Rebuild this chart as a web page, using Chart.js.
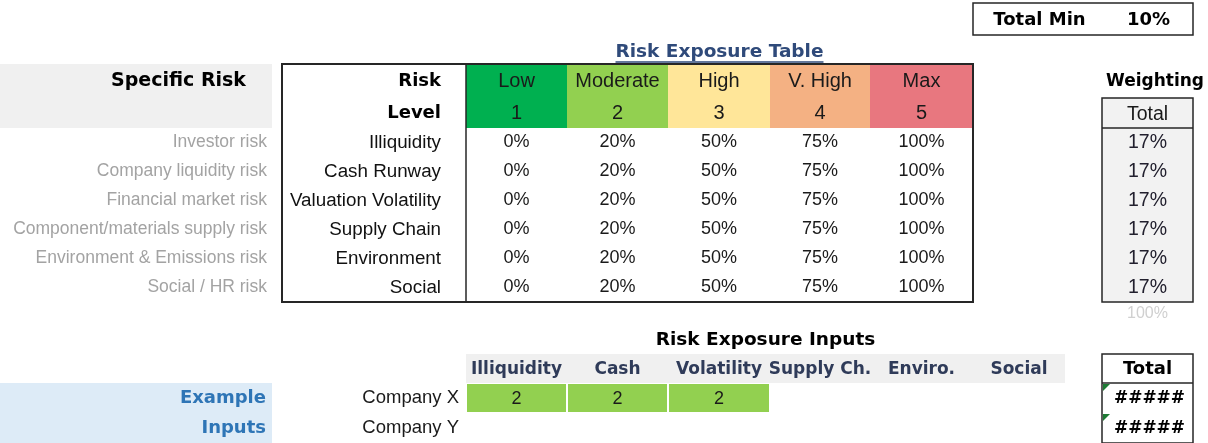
<!DOCTYPE html>
<html>
<head>
<meta charset="utf-8">
<script src="https://cdn.jsdelivr.net/npm/chart.js@4/dist/chart.umd.min.js"></script>
<style>
html, body { margin: 0; padding: 0; background: #fff; }
#wrap { width: 1208px; height: 443px; }
</style>
</head>
<body>
<div id="wrap"><canvas id="sheet"></canvas></div>
<script>
// dados da planilha
const riskLevels = ['Low', 'Moderate', 'High', 'V. High', 'Max'];
const levelNumbers = [1, 2, 3, 4, 5];
const specificRisks = ['Investor risk', 'Company liquidity risk', 'Financial market risk',
  'Component/materials supply risk', 'Environment & Emissions risk', 'Social / HR risk'];
const riskNames = ['Illiquidity', 'Cash Runway', 'Valuation Volatility', 'Supply Chain', 'Environment', 'Social'];
const exposureTable = [
  [0, 20, 50, 75, 100],
  [0, 20, 50, 75, 100],
  [0, 20, 50, 75, 100],
  [0, 20, 50, 75, 100],
  [0, 20, 50, 75, 100],
  [0, 20, 50, 75, 100]
];
const weights = [17, 17, 17, 17, 17, 17];
const weightSum = 100;
const totalMin = 10;
const inputHeaders = ['Illiquidity', 'Cash', 'Volatility', 'Supply Ch.', 'Enviro.', 'Social'];
const companies = ['Company X', 'Company Y'];
const companyInputs = [
  [2, 2, 2, null, null, null],
  [null, null, null, null, null, null]
];
const companyTotals = ['#####', '#####'];

// layout da grade (larguras das colunas / alturas das linhas, em px)
const colEdges = [0, 272, 282, 466, 567, 668, 770, 870, 973, 1065, 1102, 1193, 1208];
const rowEdges = [0, 3, 35, 64, 96, 128, 157, 186, 215, 244, 273, 302, 325, 354, 383, 413, 443];
const levelColors = ['#00B050', '#92D050', '#FFE699', '#F4B183', '#E8777F'];
const inputColor = '#92D050';

const BOLD = 'bold {s}px "DejaVu Sans"';
const REG = '{s}px "Liberation Sans"';
const f = (tpl, s) => tpl.replace('{s}', s);

function cell(chart, c0, r0, c1 = c0, r1 = r0) {
  const x = chart.scales.x, y = chart.scales.y;
  const left = x.getPixelForValue(colEdges[c0]);
  const right = x.getPixelForValue(colEdges[c1 + 1]);
  const top = y.getPixelForValue(rowEdges[r0]);
  const bottom = y.getPixelForValue(rowEdges[r1 + 1]);
  return { left, right, top, bottom, w: right - left, h: bottom - top, cx: (left + right) / 2, cy: (top + bottom) / 2 };
}

function text(ctx, s, x, y, font, color, align = 'center') {
  ctx.font = font;
  ctx.fillStyle = color;
  ctx.textAlign = align;
  ctx.textBaseline = 'middle';
  ctx.fillText(s, x, y);
}

function fill(ctx, r, color, inset = 0) {
  ctx.fillStyle = color;
  ctx.fillRect(r.left + inset, r.top + inset, r.w - inset * 2, r.h - inset * 2);
}

function box(ctx, r, width, color = '#262626') {
  ctx.strokeStyle = color;
  ctx.lineWidth = width;
  ctx.strokeRect(r.left, r.top, r.w, r.h);
}

function hline(ctx, x0, x1, y, width, color = '#262626') {
  ctx.strokeStyle = color; ctx.lineWidth = width;
  ctx.beginPath(); ctx.moveTo(x0, y); ctx.lineTo(x1, y); ctx.stroke();
}

function vline(ctx, x, y0, y1, width, color = '#262626') {
  ctx.strokeStyle = color; ctx.lineWidth = width;
  ctx.beginPath(); ctx.moveTo(x, y0); ctx.lineTo(x, y1); ctx.stroke();
}

const sheetPlugin = {
  id: 'sheet',
  beforeDatasetsDraw(chart) {
    const ctx = chart.ctx;
    ctx.save();

    // fundos
    fill(ctx, cell(chart, 0, 3, 0, 4), '#F0F0F0');
    fill(ctx, cell(chart, 0, 14, 0, 15), '#DDEBF7');
    riskLevels.forEach((_, i) => fill(ctx, cell(chart, 3 + i, 3, 3 + i, 4), levelColors[i]));
    const wb = cell(chart, 10, 4, 10, 10);
    wb.top += 2; wb.h -= 2;
    fill(ctx, wb, '#F2F2F2');
    fill(ctx, cell(chart, 3, 13, 8, 13), '#F0F0F0');
    companyInputs.forEach((row, r) => row.forEach((v, c) => {
      if (v !== null) fill(ctx, cell(chart, 3 + c, 14 + r), inputColor, 1);
    }));

    // bordas
    box(ctx, cell(chart, 8, 1, 10, 1), 1.5);
    const t = cell(chart, 2, 3, 7, 10);
    box(ctx, t, 2);
    vline(ctx, cell(chart, 3, 3).left, t.top, t.bottom, 1.5);
    box(ctx, wb, 1.5);
    hline(ctx, wb.left, wb.right, cell(chart, 10, 4).bottom, 1.5);
    const tb = cell(chart, 10, 13, 10, 15);
    box(ctx, tb, 1.5);
    hline(ctx, tb.left, tb.right, cell(chart, 10, 13).bottom, 1.5);

    // marcadores verdes
    companyTotals.forEach((_, r) => {
      const c = cell(chart, 10, 14 + r);
      ctx.fillStyle = '#1E7B34';
      ctx.beginPath();
      ctx.moveTo(c.left + 1, c.top + 1);
      ctx.lineTo(c.left + 8, c.top + 1);
      ctx.lineTo(c.left + 1, c.top + 8);
      ctx.closePath();
      ctx.fill();
    });
    ctx.restore();
  },
  afterDraw(chart) {
    const ctx = chart.ctx;
    ctx.save();
    let c;

    // Total Min
    c = cell(chart, 8, 1, 9, 1);
    text(ctx, 'Total Min', c.cx + 2, c.cy + 1, f(BOLD, 18), '#000');
    c = cell(chart, 10, 1);
    text(ctx, totalMin + '%', c.cx + 1, c.cy + 1, f(BOLD, 18), '#000');

    // título
    c = cell(chart, 3, 2, 7, 2);
    text(ctx, 'Risk Exposure Table', c.cx, c.cy + 3, f(BOLD, 18.5), '#2F4A7A');
    const tw = ctx.measureText('Risk Exposure Table').width;
    hline(ctx, c.cx - tw / 2, c.cx + tw / 2, c.cy + 12.5, 1.5, '#2F4A7A');

    // cabeçalho
    c = cell(chart, 0, 3);
    text(ctx, 'Specific Risk', c.right - 26, c.cy + 1, f(BOLD, 19), '#000', 'right');
    c = cell(chart, 2, 3);
    text(ctx, 'Risk', c.right - 25, c.cy + 1, f(BOLD, 18), '#000', 'right');
    c = cell(chart, 2, 4);
    text(ctx, 'Level', c.right - 25, c.cy + 1, f(BOLD, 18), '#000', 'right');
    riskLevels.forEach((lv, i) => {
      c = cell(chart, 3 + i, 3);
      text(ctx, lv, c.cx, c.cy + 1, f(REG, 20), '#1a1a1a');
      c = cell(chart, 3 + i, 4);
      text(ctx, String(levelNumbers[i]), c.cx, c.cy + 1, f(REG, 20), '#1a1a1a');
    });
    c = cell(chart, 10, 3, 11, 3);
    text(ctx, 'Weighting', c.cx, c.cy + 2, f(BOLD, 17), '#000');
    c = cell(chart, 10, 4);
    text(ctx, 'Total', c.cx, c.cy + 3, f(REG, 19.5), '#1a1a1a');

    // linhas de risco
    specificRisks.forEach((s, r) => {
      c = cell(chart, 0, 5 + r);
      text(ctx, s, c.right - 5, c.cy, f(REG, 17.5), '#A3A3A3', 'right');
      c = cell(chart, 2, 5 + r);
      text(ctx, riskNames[r], c.right - 25, c.cy, f(REG, 18.8), '#111', 'right');
      c = cell(chart, 10, 5 + r);
      text(ctx, weights[r] + '%', c.cx, c.cy, f(REG, 19.5), '#22202e');
    });

    // percentuais (pontos do dataset)
    const meta = chart.getDatasetMeta(0);
    meta.data.forEach((pt, i) => {
      const raw = chart.data.datasets[0].data[i];
      text(ctx, raw.v + '%', pt.x, pt.y, f(REG, 18), '#1a1a1a');
    });

    c = cell(chart, 10, 11);
    text(ctx, weightSum + '%', c.cx, c.cy, f(REG, 16), '#D0D0D0');

    // entradas
    c = cell(chart, 3, 12, 8, 12);
    text(ctx, 'Risk Exposure Inputs', c.cx, c.cy + 1, f(BOLD, 18.5), '#000');
    inputHeaders.forEach((h, i) => {
      c = cell(chart, 3 + i, 13);
      text(ctx, h, c.cx, c.cy + 1, f(BOLD, 17), '#2F3B59');
    });
    c = cell(chart, 10, 13);
    text(ctx, 'Total', c.cx, c.cy + 1, f(BOLD, 18), '#000');
    ['Example', 'Inputs'].forEach((s, r) => {
      c = cell(chart, 0, 14 + r);
      text(ctx, s, c.right - 6, c.cy, f(BOLD, 18), '#2E75B6', 'right');
    });
    companies.forEach((s, r) => {
      c = cell(chart, 2, 14 + r);
      text(ctx, s, c.right - 7, c.cy, f(REG, 18.5), '#1a1a1a', 'right');
      companyInputs[r].forEach((v, i) => {
        if (v === null) return;
        c = cell(chart, 3 + i, 14 + r);
        text(ctx, String(v), c.cx, c.cy + 1, f(REG, 18), '#1a1a1a');
      });
      c = cell(chart, 10, 14 + r);
      text(ctx, companyTotals[r], c.cx + 2, c.cy + 1, f(BOLD, 17), '#000');
    });
    ctx.restore();
  }
};

// pontos da tabela de exposição (centro de cada célula)
const pctPoints = [];
exposureTable.forEach((row, r) => row.forEach((v, i) => {
  pctPoints.push({
    x: (colEdges[3 + i] + colEdges[4 + i]) / 2,
    y: (rowEdges[5 + r] + rowEdges[6 + r]) / 2,
    v: v
  });
}));

const ctx = document.getElementById('sheet');
new Chart(ctx, {
  type: 'scatter',
  data: {
    datasets: [{
      label: 'Risk Exposure',
      data: pctPoints,
      pointRadius: 0,
      pointHoverRadius: 0
    }]
  },
  options: {
    responsive: true,
    maintainAspectRatio: false,
    animation: false,
    layout: { padding: 0 },
    plugins: { legend: { display: false }, tooltip: { enabled: false } },
    scales: {
      x: { type: 'linear', display: false, min: 0, max: colEdges[colEdges.length - 1] },
      y: { type: 'linear', display: false, min: 0, max: rowEdges[rowEdges.length - 1], reverse: true }
    }
  },
  plugins: [sheetPlugin]
});
</script>
</body>
</html>
